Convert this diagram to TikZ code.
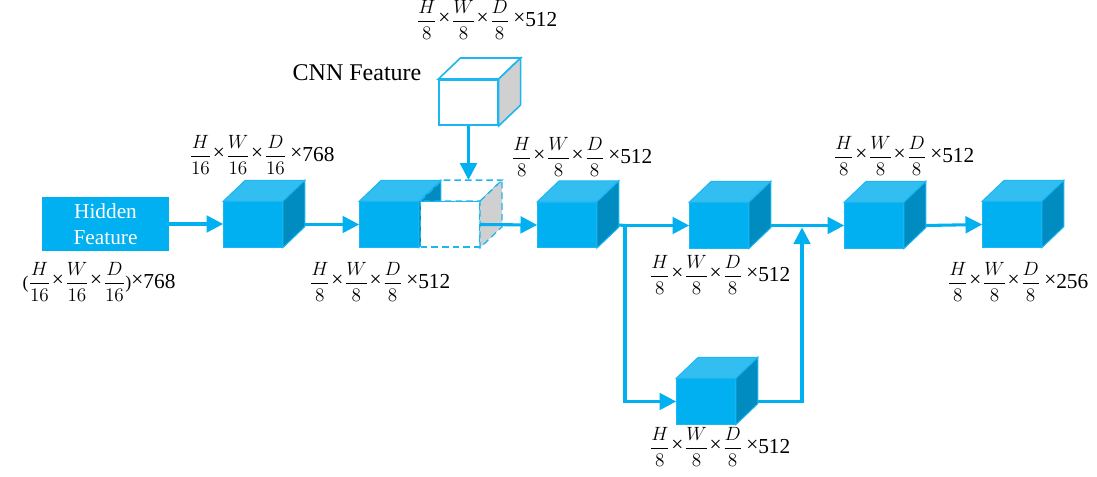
\documentclass[tikz,border=0pt]{standalone}
\usepackage{amsmath}
\usepackage{fontspec}
\setmainfont{Liberation Serif}
\usetikzlibrary{arrows.meta}
\definecolor{cfront}{HTML}{00B0F0}
\definecolor{ctop}{HTML}{33BEF2}
\definecolor{cside}{HTML}{008CC0}
\definecolor{cedge}{HTML}{1CB6F0}
\definecolor{cgray}{HTML}{D0D0D0}
\newcommand\mycube[5]{% name, x, y, front fill, extra style
  \node[front,fill=#4,#5] (#1) at (#2,#3) {};
}
\newcommand\cubefaces[4]{% name, top fill, side fill, extra style
  \path[fill=#2,draw=cedge,line width=0.75pt,#4] (#1.north west) -- ([shift={(22,-21)}]#1.north west) -- ([shift={(22,-21)}]#1.north east) -- (#1.north east) -- cycle;
  \filldraw[fill=#3,draw=cedge,line width=0.75pt,#4] (#1.north east) -- ([shift={(22,-21)}]#1.north east) -- ([shift={(22,-21)}]#1.south east) -- (#1.south east) -- cycle;
}
\newcommand\fr[2]{$\dfrac{#1}{#2}$}
\newcommand\bx{\hspace{1pt}{\fontsize{16}{16}\selectfont\raisebox{0.2ex}{×}}\hspace{1pt}}
\newcommand\tl[1]{{\fontsize{16}{16}\selectfont\raisebox{0.2ex}{×}#1}}
\newcommand\lab[3]{\fr{H}{#1}\bx\fr{W}{#1}\bx\fr{D}{#1}\hspace{3pt}\tl{#2}#3}
\begin{document}
\begin{tikzpicture}[x=0.75pt,y=-0.75pt,
  front/.style={draw=cedge,line width=0.75pt,minimum width=44pt,minimum height=34pt,inner sep=0pt},
  arr/.style={draw=cfront,line width=2.3pt,-{Triangle[length=12.5pt,width=12.5pt]}},
  ln/.style={draw=cfront,line width=2.3pt},
  lbl/.style={font=\fontsize{13.5}{15}\selectfont,inner sep=0pt},
  box/.style={fill=cfront,minimum width=95pt,minimum height=40.5pt,inner sep=0pt,text=white,align=center,font=\fontsize{16}{19.5}\selectfont}]
\useasboundingbox (0,0) rectangle (1097,477);
% hidden feature
\node[box] (hid) at (105.5,224) {Hidden\\Feature};
% cubes
\mycube{c1}{253}{224.5}{cfront}{}
\cubefaces{c1}{ctop}{cside}{}
\mycube{c2}{389}{224.5}{cfront}{}
\cubefaces{c2}{ctop}{cside}{}
\mycube{dsh}{450}{224.5}{white}{dashed,line width=1pt,dash pattern=on 5pt off 3pt}
\cubefaces{dsh}{none}{cgray}{dashed,line width=1pt,dash pattern=on 5pt off 3pt}
\mycube{cnn}{468.5}{102.5}{white}{line width=1.2pt}
\cubefaces{cnn}{white}{cgray}{line width=1.2pt}
\mycube{c3}{567}{225}{cfront}{}
\cubefaces{c3}{ctop}{cside}{}
\mycube{c4}{719}{225.5}{cfront}{}
\cubefaces{c4}{ctop}{cside}{}
\mycube{c5}{874}{225.5}{cfront}{}
\cubefaces{c5}{ctop}{cside}{}
\mycube{c6}{1012}{224.5}{cfront}{}
\cubefaces{c6}{ctop}{cside}{}
\mycube{c7}{706}{401.5}{cfront}{}
\cubefaces{c7}{ctop}{cside}{}
% connectors
\draw[arr] (hid.east) -- (hid.east -| c1.west);
\draw[arr] ([xshift=16.5pt]c1.east) -- (c2.west);
\draw[arr] (dsh.east) -- (c3.west);
\coordinate (dtop) at ([yshift=16pt]dsh.north);
\draw[arr] (cnn.south) -- (cnn.south |- dtop);
\coordinate (b1) at (625,225.5);
\coordinate (b2) at (625,401.5);
\coordinate (b3) at (802,401.5);
\coordinate (j) at (802,227.5);
\draw[ln] ([xshift=16.5pt]c3.east) -- (b1);
\draw[arr] (b1) -- (b1 -| c4.west);
\draw[arr] (b1) -- (b2) -- (c7.west);
\draw[arr] ([xshift=16.5pt]c7.east) -- (b3) -- (j);
\draw[arr] ([xshift=16.5pt]c4.east) -- (c5.west);
\draw[arr] ([xshift=16.5pt]c5.east) -- (c6.west);
% labels
\node[font=\fontsize{18}{20}\selectfont,inner sep=0pt] (tcnn) at (357,73) {CNN Feature};
\node[lbl] (l1) at (262,155) {\lab{16}{768}{}};
\node[lbl] (l0) at (99,282) {(\fr{H}{16}\bx\fr{W}{16}\bx\fr{D}{16})\tl{768}};
\node[lbl] (l2) at (380,282) {\lab{8}{512}{}};
\node[lbl] (lc) at (487,20) {\lab{8}{512}{}};
\node[lbl] (l3) at (582,157) {\lab{8}{512}{}};
\node[lbl] (l4) at (720,275) {\lab{8}{512}{}};
\node[lbl] (l5) at (904,156) {\lab{8}{512}{}};
\node[lbl] (l6) at (1018,282) {\lab{8}{256}{}};
\node[lbl] (l7) at (720,447) {\lab{8}{512}{}};
\end{tikzpicture}
\end{document}
